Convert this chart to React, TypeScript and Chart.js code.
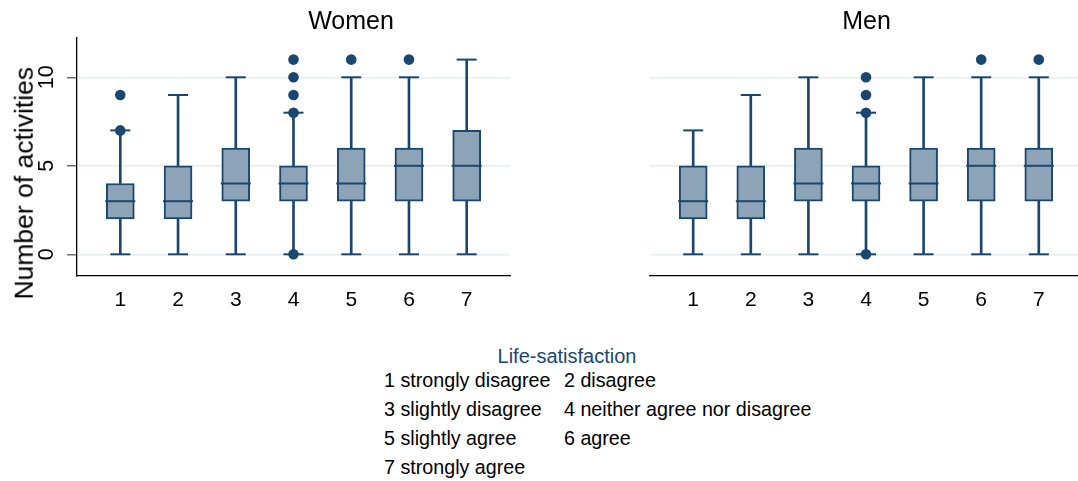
import React, { useEffect, useRef } from "react";
import { Chart, registerables } from "chart.js";

Chart.register(...registerables);

// ---------- data ----------
const CATEGORIES = [1, 2, 3, 4, 5, 6, 7];
const Y_TICKS = [0, 5, 10];
const PANEL_TITLES = ["Women", "Men"];
const Y_TITLE = "Number of activities";
const LEGEND_TITLE = "Life-satisfaction";
const LEGEND_LABELS = [
  "1 strongly disagree",
  "2 disagree",
  "3 slightly disagree",
  "4 neither agree nor disagree",
  "5 slightly agree",
  "6 agree",
  "7 strongly agree",
];

const WOMEN_LOWER = [0, 0, 0, 0, 0, 0, 0];
const WOMEN_Q1 = [2, 2, 3, 3, 3, 3, 3];
const WOMEN_MEDIAN = [3, 3, 4, 4, 4, 5, 5];
const WOMEN_Q3 = [4, 5, 6, 5, 6, 6, 7];
const WOMEN_UPPER = [7, 9, 10, 8, 10, 10, 11];
const WOMEN_OUTLIERS = [[7, 9], [], [], [0, 8, 9, 10, 11], [11], [11], []];

const MEN_LOWER = [0, 0, 0, 0, 0, 0, 0];
const MEN_Q1 = [2, 2, 3, 3, 3, 3, 3];
const MEN_MEDIAN = [3, 3, 4, 4, 4, 5, 5];
const MEN_Q3 = [5, 5, 6, 5, 6, 6, 6];
const MEN_UPPER = [7, 9, 10, 8, 10, 10, 10];
const MEN_OUTLIERS = [[], [], [], [0, 8, 9, 10], [], [11], [11]];

// ---------- style ----------
const NAVY = "#1a476f";
const FILL = "#8da3b8";
const GRID = "#e4edf0";
const FONT = '"Liberation Sans", Arial, Helvetica, sans-serif';
const Y_MIN = -1.226;
const Y_MAX = 12.22;

function buildDatasets(
  lower: number[],
  q1: number[],
  med: number[],
  q3: number[],
  upper: number[],
  outliers: number[][]
): any[] {
  const lowWhisker = CATEGORIES.map((c, i) => ({ x: c, y: [lower[i], q1[i]] }));
  const highWhisker = CATEGORIES.map((c, i) => ({ x: c, y: [q3[i], upper[i]] }));
  const boxes = CATEGORIES.map((c, i) => ({ x: c, y: [q1[i], q3[i]] }));
  const medians = CATEGORIES.map((c, i) => ({ x: c, y: med[i] }));
  const caps = CATEGORIES.flatMap((c, i) => [
    { x: c, y: lower[i] },
    { x: c, y: upper[i] },
  ]);
  const outs = CATEGORIES.flatMap((c, i) => outliers[i].map((v) => ({ x: c, y: v })));
  const whiskerStyle = {
    type: "bar",
    barThickness: 2,
    backgroundColor: NAVY,
    borderWidth: 0,
    grouped: false,
    order: 3,
  };
  return [
    { ...whiskerStyle, data: lowWhisker },
    { ...whiskerStyle, data: highWhisker },
    {
      type: "bar",
      data: boxes,
      barThickness: 28,
      backgroundColor: FILL,
      borderColor: NAVY,
      borderWidth: 2,
      borderSkipped: false,
      grouped: false,
      order: 2,
    },
    {
      type: "scatter",
      data: medians,
      pointStyle: "line",
      pointRadius: 15,
      pointBorderColor: NAVY,
      pointBorderWidth: 2,
      order: 1,
    },
    {
      type: "scatter",
      data: caps,
      pointStyle: "line",
      pointRadius: 10,
      pointBorderColor: NAVY,
      pointBorderWidth: 2,
      order: 1,
    },
    {
      type: "scatter",
      data: outs,
      pointStyle: "circle",
      pointRadius: 5.3,
      pointBackgroundColor: NAVY,
      pointBorderWidth: 0,
      order: 0,
    },
  ];
}

function buildConfig(datasets: any[], showYAxis: boolean, yWidth: number, padRight: number): any {
  return {
    type: "bar",
    data: { datasets },
    options: {
      animation: false,
      responsive: false,
      devicePixelRatio: 1,
      events: [],
      layout: { padding: { left: 0, top: 38, right: padRight, bottom: 0 } },
      plugins: { legend: { display: false }, tooltip: { enabled: false }, title: { display: false } },
      scales: {
        x: {
          type: "linear",
          min: 0.25,
          max: 7.75,
          offset: false,
          afterBuildTicks: (s: any) => {
            s.ticks = CATEGORIES.map((v) => ({ value: v }));
          },
          afterFit: (s: any) => {
            s.height = 54;
          },
          grid: { display: false, drawTicks: false, offset: false },
          border: { display: true, color: "#000", width: 1.3 },
          ticks: {
            autoSkip: false,
            maxRotation: 0,
            minRotation: 0,
            padding: 12,
            color: "#000",
            font: { family: FONT, size: 21 },
            callback: (v: any) => String(v),
          },
        },
        y: {
          type: "linear",
          min: Y_MIN,
          max: Y_MAX,
          afterBuildTicks: (s: any) => {
            s.ticks = Y_TICKS.map((v) => ({ value: v }));
          },
          afterFit: (s: any) => {
            s.width = yWidth;
          },
          grid: {
            color: GRID,
            lineWidth: 1.5,
            drawTicks: showYAxis,
            tickLength: 10,
            tickColor: "#6e6e6e",
            tickWidth: 1.5,
          },
          border: { display: showYAxis, color: "#000", width: 1.3 },
          ticks: {
            display: showYAxis,
            minRotation: 90,
            maxRotation: 90,
            crossAlign: "center",
            padding: 8,
            color: "#000",
            font: { family: FONT, size: 21.5 },
            callback: (v: any) => String(v),
          },
        },
      },
    },
  };
}

const textBase: React.CSSProperties = {
  position: "absolute",
  fontFamily: FONT,
  whiteSpace: "nowrap",
  margin: 0,
};

function TextAt(props: {
  text: string;
  left: number;
  baseline: number;
  size: number;
  color?: string;
  center?: boolean;
}) {
  const { text, left, baseline, size, color = "#000", center = false } = props;
  const top = baseline - 0.8465 * size;
  const style: React.CSSProperties = {
    ...textBase,
    fontSize: size,
    lineHeight: `${size}px`,
    height: size,
    top,
    color,
  };
  if (center) {
    style.left = left - 200;
    style.width = 400;
    style.textAlign = "center";
  } else {
    style.left = left;
  }
  return <div style={style}>{text}</div>;
}

export default function App() {
  const womenRef = useRef<HTMLCanvasElement | null>(null);
  const menRef = useRef<HTMLCanvasElement | null>(null);

  useEffect(() => {
    const charts: Chart[] = [];
    if (womenRef.current) {
      charts.push(
        new Chart(
          womenRef.current,
          buildConfig(
            buildDatasets(WOMEN_LOWER, WOMEN_Q1, WOMEN_MEDIAN, WOMEN_Q3, WOMEN_UPPER, WOMEN_OUTLIERS),
            true,
            77,
            30
          )
        )
      );
    }
    if (menRef.current) {
      charts.push(
        new Chart(
          menRef.current,
          buildConfig(
            buildDatasets(MEN_LOWER, MEN_Q1, MEN_MEDIAN, MEN_Q3, MEN_UPPER, MEN_OUTLIERS),
            false,
            110,
            18
          )
        )
      );
    }
    return () => charts.forEach((c) => c.destroy());
  }, []);

  const yTitleSize = 26.5;
  const yTitleCx = 23.8;
  const yTitleCy = 183.5;

  return (
    <div
      style={{
        position: "absolute",
        left: 0,
        top: 0,
        width: 1078,
        height: 481,
        overflow: "hidden",
        background: "#fff",
      }}
    >
      <canvas
        ref={womenRef}
        width={540}
        height={330}
        style={{ position: "absolute", left: 0, top: 0, width: 540, height: 330 }}
      />
      <canvas
        ref={menRef}
        width={560}
        height={330}
        style={{ position: "absolute", left: 540, top: 0, width: 560, height: 330 }}
      />
      <TextAt text={PANEL_TITLES[0]} left={351} baseline={29} size={25} center />
      <TextAt text={PANEL_TITLES[1]} left={866.5} baseline={29} size={25} center />
      <div
        style={{
          ...textBase,
          fontSize: yTitleSize,
          lineHeight: `${yTitleSize}px`,
          height: yTitleSize,
          width: 300,
          textAlign: "center",
          left: yTitleCx - 150,
          top: yTitleCy - yTitleSize / 2,
          transform: "rotate(-90deg)",
          transformOrigin: "50% 50%",
          color: "#000",
        }}
      >
        {Y_TITLE}
      </div>
      <TextAt text={LEGEND_TITLE} left={567} baseline={363} size={20} color={NAVY} center />
      {LEGEND_LABELS.map((label, i) => (
        <TextAt
          key={label}
          text={label}
          left={i % 2 === 0 ? 384 : 564}
          baseline={388 + Math.floor(i / 2) * 29}
          size={19.7}
        />
      ))}
    </div>
  );
}
